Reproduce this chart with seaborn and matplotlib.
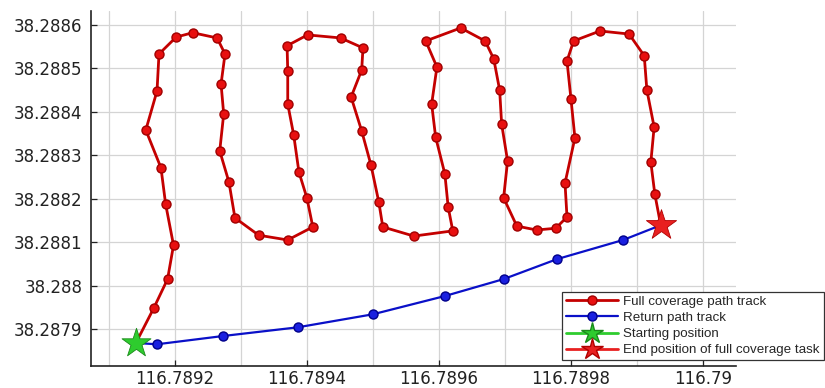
import matplotlib
matplotlib.use("Agg")
import matplotlib.pyplot as plt
from matplotlib.lines import Line2D
from matplotlib.ticker import MultipleLocator, FixedLocator, FixedFormatter
import seaborn as sns
import pandas as pd

# Full coverage path (longitude, latitude)
cover_lon = [116.789141, 116.789168, 116.789189, 116.789198, 116.789186, 116.789179,
             116.789156, 116.789173, 116.789176, 116.789202, 116.789227, 116.789264,
             116.789276, 116.789270, 116.789274, 116.789268, 116.789282, 116.789291,
             116.789327, 116.789371, 116.789409, 116.789400, 116.789388, 116.789380,
             116.789371, 116.789371, 116.789370, 116.789401, 116.789451, 116.789485,
             116.789483, 116.789467, 116.789483, 116.789497, 116.789509, 116.789515,
             116.789562, 116.789621, 116.789614, 116.789609, 116.789595, 116.789589,
             116.789597, 116.789580, 116.789633, 116.789670, 116.789683, 116.789692,
             116.789695, 116.789704, 116.789698, 116.789718, 116.789748, 116.789777,
             116.789794, 116.789791, 116.789806, 116.789800, 116.789794, 116.789804,
             116.789844, 116.789888, 116.789911, 116.789915, 116.789926, 116.789921,
             116.789927, 116.789936]
cover_lat = [38.287868, 38.287948, 38.288015, 38.288093, 38.288188, 38.288271,
             38.288358, 38.288448, 38.288533, 38.288572, 38.288582, 38.288570,
             38.288533, 38.288464, 38.288395, 38.288310, 38.288238, 38.288156,
             38.288116, 38.288105, 38.288135, 38.288202, 38.288261, 38.288347,
             38.288418, 38.288494, 38.288552, 38.288577, 38.288570, 38.288547,
             38.288496, 38.288434, 38.288356, 38.288278, 38.288192, 38.288135,
             38.288114, 38.288126, 38.288181, 38.288257, 38.288342, 38.288418,
             38.288503, 38.288563, 38.288593, 38.288563, 38.288522, 38.288450,
             38.288372, 38.288287, 38.288202, 38.288137, 38.288128, 38.288132,
             38.288158, 38.288236, 38.288340, 38.288430, 38.288517, 38.288563,
             38.288586, 38.288579, 38.288529, 38.288450, 38.288365, 38.288284,
             38.288211, 38.288139]

# Return path
return_lon = [116.789936, 116.789879, 116.789779, 116.789698, 116.789609,
              116.789500, 116.789386, 116.789273, 116.789173, 116.789141]
return_lat = [38.288139, 38.288105, 38.288061, 38.288015, 38.287976,
              38.287934, 38.287904, 38.287884, 38.287865, 38.287868]

start_pos = (116.789141, 38.287868)
end_pos = (116.789936, 38.288139)

x_ticks = [116.7892, 116.7894, 116.7896, 116.7898, 116.7900]
x_tick_labels = ["116.7892", "116.7894", "116.7896", "116.7898", "116.79"]
y_ticks = [38.2879, 38.2880, 38.2881, 38.2882, 38.2883, 38.2884, 38.2885, 38.2886]
y_tick_labels = ["38.2879", "38.288", "38.2881", "38.2882", "38.2883", "38.2884", "38.2885", "38.2886"]

legend_labels = ["Full coverage path track", "Return path track",
                 "Starting position", "End position of full coverage task"]

sns.set_theme(style="white")
plt.rcParams["font.family"] = ["DejaVu Sans"]

fig = plt.figure(figsize=(8.25, 3.88), dpi=100)
ax = fig.add_axes([91 / 825, 1 - 366 / 388, (736 - 91) / 825, (366 - 11) / 388])

red_line = "#c40000"
red_face = "#e81010"
blue_line = "#0a10c8"

df_cover = pd.DataFrame({"lon": cover_lon, "lat": cover_lat})
df_ret = pd.DataFrame({"lon": return_lon, "lat": return_lat})

sns.lineplot(data=df_cover, x="lon", y="lat", sort=False, estimator=None, ax=ax,
             color=red_line, lw=2.0, marker="o", markersize=6.5,
             markerfacecolor=red_face, markeredgecolor="#a00000", markeredgewidth=1.0,
             zorder=3)
sns.lineplot(data=df_ret, x="lon", y="lat", sort=False, estimator=None, ax=ax,
             color=blue_line, lw=1.6, marker="o", markersize=6.5,
             markerfacecolor="#1a20e0", markeredgecolor="#00008a", markeredgewidth=1.0,
             zorder=3)
sns.scatterplot(x=[start_pos[0]], y=[start_pos[1]], ax=ax, marker="*", s=480,
                color="#2ecc2e", edgecolor="#1a8a1a", linewidth=0.6, zorder=5)
sns.scatterplot(x=[end_pos[0]], y=[end_pos[1]], ax=ax, marker="*", s=520,
                color="#e82020", edgecolor="#b00000", linewidth=0.6, zorder=5)

ax.set_xlim(116.789073, 116.790050)
ax.set_ylim(38.287815, 38.288632)
ax.xaxis.set_major_locator(FixedLocator(x_ticks))
ax.xaxis.set_major_formatter(FixedFormatter(x_tick_labels))
ax.xaxis.set_minor_locator(MultipleLocator(0.0001))
ax.yaxis.set_major_locator(FixedLocator(y_ticks))
ax.yaxis.set_major_formatter(FixedFormatter(y_tick_labels))
ax.set_xlabel("")
ax.set_ylabel("")

ax.grid(True, which="both", color="#d4d4d4", lw=0.9)
ax.set_axisbelow(True)
ax.tick_params(axis="both", which="major", direction="in", length=4, width=0.9,
               labelsize=12, colors="#222222", bottom=True, left=True)
ax.tick_params(axis="x", which="major", pad=3)
ax.tick_params(axis="y", which="major", pad=6)
ax.tick_params(axis="x", which="minor", length=0)
for s in ["top", "right"]:
    ax.spines[s].set_visible(False)
for s in ["left", "bottom"]:
    ax.spines[s].set_color("#222222")
    ax.spines[s].set_linewidth(1.2)

handles = [
    Line2D([], [], color=red_line, lw=2.0, marker="o", markersize=6.5,
           markerfacecolor=red_face, markeredgecolor="#a00000"),
    Line2D([], [], color=blue_line, lw=1.6, marker="o", markersize=6.5,
           markerfacecolor="#1a20e0", markeredgecolor="#00008a"),
    Line2D([], [], color="#2ecc2e", lw=2.0, marker="*", markersize=16,
           markerfacecolor="#2ecc2e", markeredgecolor="#1a8a1a"),
    Line2D([], [], color="#e82020", lw=2.0, marker="*", markersize=16,
           markerfacecolor="#e82020", markeredgecolor="#b00000"),
]
leg = ax.legend(handles, legend_labels, loc="upper left",
                bbox_to_anchor=(562 / 825, 1 - 292 / 388), bbox_transform=fig.transFigure,
                borderaxespad=0, fontsize=9.2, frameon=True, fancybox=False,
                handlelength=4.1, handletextpad=0.4, labelspacing=0.32,
                borderpad=0.3, framealpha=1)
for t in leg.get_texts():
    t.set_family(["Liberation Sans", "DejaVu Sans"])
    t.set_fontsize(9.6)
leg.get_frame().set_edgecolor("#333333")
leg.get_frame().set_linewidth(0.9)

fig.savefig("out.png", dpi=100)
